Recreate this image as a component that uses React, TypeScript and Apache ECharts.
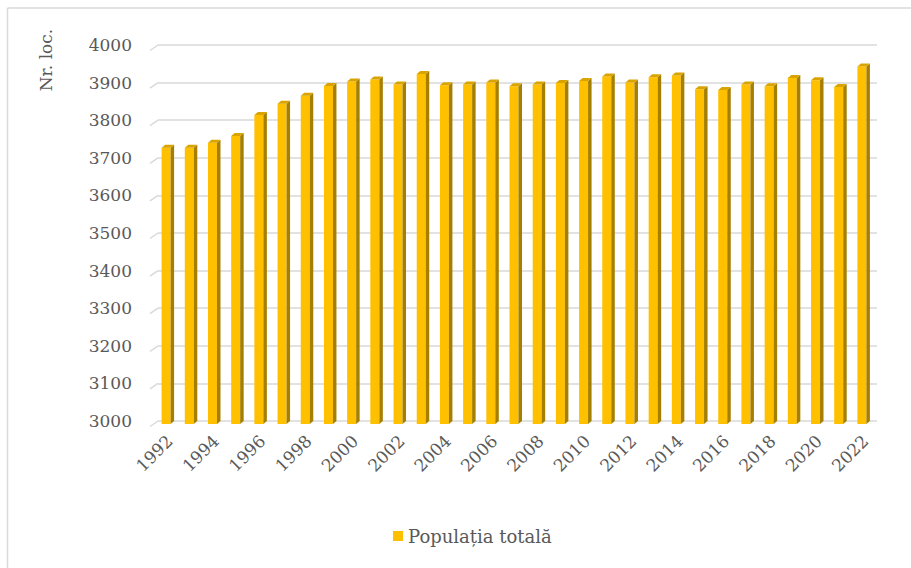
import React, { useEffect, useRef } from "react";
import * as echarts from "echarts";

const years: string[] = [
  "1992", "1993", "1994", "1995", "1996", "1997", "1998", "1999", "2000", "2001",
  "2002", "2003", "2004", "2005", "2006", "2007", "2008", "2009", "2010", "2011",
  "2012", "2013", "2014", "2015", "2016", "2017", "2018", "2019", "2020", "2021", "2022",
];
const population: number[] = [
  3735, 3735, 3748, 3766, 3822, 3852, 3873, 3899, 3911, 3916,
  3903, 3931, 3901, 3903, 3908, 3898, 3903, 3907, 3912, 3924,
  3908, 3922, 3927, 3890, 3888, 3903, 3898, 3920, 3914, 3896, 3951,
];
const yTicks: number[] = [3000, 3100, 3200, 3300, 3400, 3500, 3600, 3700, 3800, 3900, 4000];
const seriesName = "Populația totală";
const yAxisTitle = "Nr. loc.";

const FONT = "DejaVu Serif";
const TEXT = "#595959";

export default function App() {
  const ref = useRef<HTMLDivElement>(null);
  useEffect(() => {
    document.body.style.margin = "0";
    if (!ref.current) return;
    const chart = echarts.init(ref.current, undefined, { renderer: "svg" });
    const dx = 3.5;
    const dy = 3;
    const w = 9;
    chart.setOption({
      animation: false,
      backgroundColor: "#ffffff",
      grid: { left: 158, right: 34, top: 45, bottom: 147 },
      legend: {
        top: 522,
        left: 388,
        icon: "rect",
        itemWidth: 10,
        itemHeight: 10,
        data: [seriesName],
        textStyle: { fontFamily: FONT, fontSize: 18, color: TEXT },
      },
      xAxis: {
        type: "category",
        data: years,
        boundaryGap: true,
        axisLine: { show: false },
        axisTick: { show: false },
        axisLabel: {
          interval: 1,
          rotate: 45,
          margin: 17,
          fontFamily: FONT,
          fontSize: 17,
          color: TEXT,
        },
      },
      yAxis: {
        type: "value",
        min: 3000,
        max: 4000,
        interval: 100,
        axisLine: { show: false },
        axisTick: { show: false },
        axisLabel: {
          margin: 26,
          fontFamily: FONT,
          fontSize: 17,
          color: TEXT,
          formatter: (v: number) => String(v),
        },
        splitLine: { lineStyle: { color: "#d9d9d9", width: 1.5 } },
      },
      graphic: [
        {
          type: "line",
          shape: { x1: 7.5, y1: 8, x2: 7.5, y2: 568 },
          style: { stroke: "#d9d9d9", lineWidth: 1.5 },
        },
        {
          type: "line",
          shape: { x1: 7.5, y1: 8, x2: 911, y2: 8 },
          style: { stroke: "#d9d9d9", lineWidth: 1.5 },
        },
        {
          type: "text",
          x: 46,
          y: 60,
          rotation: Math.PI / 2,
          style: {
            text: yAxisTitle,
            fontFamily: FONT,
            fontSize: 17,
            fill: TEXT,
            align: "center",
            verticalAlign: "middle",
          },
        },
      ],
      series: [
        {
          type: "custom",
          name: "tails",
          silent: true,
          data: yTicks.map((v) => [0, v]),
          renderItem: (params: any, api: any) => {
            const p = api.coord([0, api.value(1)]);
            const band = api.size([1, 0])[0];
            const x0 = p[0] - band / 2;
            return {
              type: "line",
              shape: { x1: x0, y1: p[1], x2: x0 - 8, y2: p[1] + 5.5 },
              style: { stroke: "#d9d9d9", lineWidth: 1.5 },
            };
          },
          z: 1,
        },
        {
          type: "custom",
          name: seriesName,
          itemStyle: { color: "#FFC000" },
          data: population.map((v, i) => [i, v]),
          renderItem: (params: any, api: any) => {
            const i = api.value(0);
            const top = api.coord([i, api.value(1)]);
            const base = api.coord([i, 3000]);
            const cx = top[0];
            const yv = top[1];
            const y0 = base[1];
            return {
              type: "group",
              children: [
                {
                  type: "rect",
                  shape: { x: cx - dx - w / 2, y: yv + dy, width: w, height: y0 - yv },
                  style: { fill: "#FFC000" },
                },
                {
                  type: "polygon",
                  shape: {
                    points: [
                      [cx - dx + w / 2, yv + dy],
                      [cx + w / 2, yv],
                      [cx + w / 2, y0],
                      [cx - dx + w / 2, y0 + dy],
                    ],
                  },
                  style: { fill: "#A67F00" },
                },
                {
                  type: "polygon",
                  shape: {
                    points: [
                      [cx - dx - w / 2, yv + dy],
                      [cx - w / 2, yv],
                      [cx + w / 2, yv],
                      [cx - dx + w / 2, yv + dy],
                    ],
                  },
                  style: { fill: "#D9A400" },
                },
              ],
            };
          },
          z: 2,
        },
      ],
    });
    return () => chart.dispose();
  }, []);
  return <div ref={ref} style={{ width: 911, height: 568 }} />;
}
